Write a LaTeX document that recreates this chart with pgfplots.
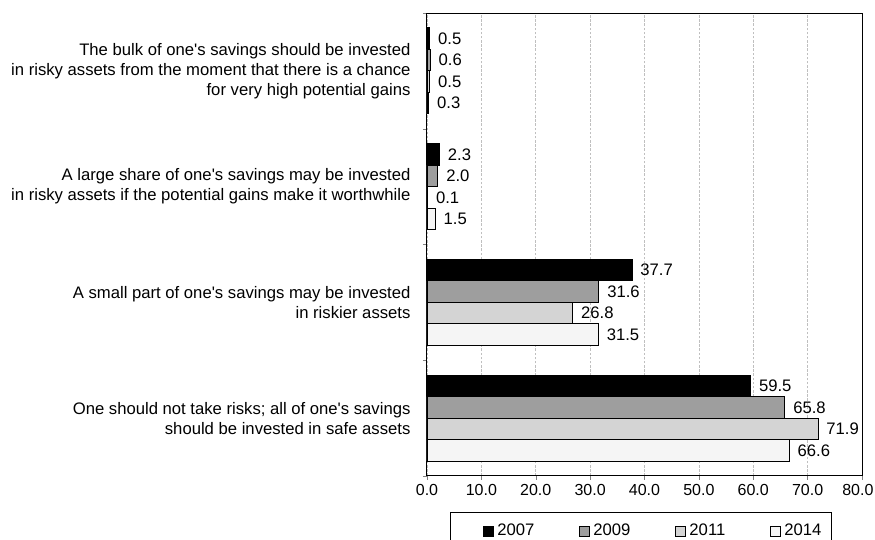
\documentclass[border=0pt]{standalone}
\usepackage{pgfplots}
\pgfplotsset{compat=1.18}
\usepackage{fontspec}
\setmainfont{Liberation Sans}[Ligatures=TeXOff]

\definecolor{c2007}{gray}{0.0}
\definecolor{c2009}{gray}{0.62}
\definecolor{c2011}{gray}{0.83}
\definecolor{c2014}{gray}{0.96}

\newcommand{\chartfont}{\fontsize{10}{12}\selectfont}
\newcommand{\tickfont}{\fontsize{9.6}{11.5}\selectfont}

\begin{document}
\chartfont
\begin{tikzpicture}
\useasboundingbox (0,0) rectangle (525pt,324pt);
\begin{axis}[
  at={(256.2pt,38.4pt)}, anchor=south west,
  scale only axis, width=261pt, height=277.8pt,
  xbar, bar width=12.9pt,
  xmin=0, xmax=80, ymin=-0.5, ymax=3.5,
  xtick={0,10,...,80},
  xticklabels={0.0,10.0,20.0,30.0,40.0,50.0,60.0,70.0,{\hspace*{-5pt}80.0}},
  ytick={0,1,2,3},
  yticklabels={
    {One should not take risks; all of one's savings\\should be invested in safe assets},
    {A small part of one's savings may be invested\\in riskier assets},
    {A large share of one's savings may be invested\\in risky assets if the potential gains make it worthwhile},
    {The bulk of one's savings should be invested\\in risky assets from the moment that there is a chance\\for very high potential gains}},
  yticklabel style={align=right, font=\chartfont, xshift=-4pt},
  xticklabel style={font=\tickfont, yshift=1pt},
  minor ytick={-0.5,0.5,1.5,2.5,3.5},
  major y tick style={draw=none},
  minor y tick style={gray},
  tick align=outside,
  major tick length=2.4pt, minor tick length=2.4pt,
  xtick pos=bottom, ytick pos=left,
  xmajorgrids, major x grid style={dash pattern=on 1.5pt off 1pt, gray!50, line width=0.4pt},
  axis line style={black, line width=0.6pt},
  /pgf/number format/.cd, fixed, fixed zerofill, precision=1, assume math mode=true, /pgfplots/.cd,
  nodes near coords,
  every node near coord/.append style={font=\chartfont, black, xshift=1.5pt},
  every axis plot/.append style={draw=black, line width=0.5pt},
  legend columns=4,
  legend style={at={(0.492,-0.1188)}, anchor=center, draw=black, line width=0.6pt,
    font=\chartfont, inner xsep=19.8pt, inner ysep=5pt,
    /tikz/every even column/.append style={column sep=25pt}},
  legend image code/.code={\draw[#1, line width=0.4pt] (0pt,-3pt) rectangle (6pt,3pt);},
]
\addplot[fill=c2007, bar shift=19.35pt] coordinates {(59.5,0) (37.7,1) (2.3,2) (0.5,3)};
\addplot[fill=c2009, bar shift=6.45pt] coordinates {(65.8,0) (31.6,1) (2.0,2) (0.6,3)};
\addplot[fill=c2011, bar shift=-6.45pt] coordinates {(71.9,0) (26.8,1) (0.1,2) (0.5,3)};
\addplot[fill=c2014, bar shift=-19.35pt] coordinates {(66.6,0) (31.5,1) (1.5,2) (0.3,3)};
\legend{2007,2009,2011,{2014\hspace*{-15.6pt}}}
\end{axis}
\end{tikzpicture}
\end{document}
